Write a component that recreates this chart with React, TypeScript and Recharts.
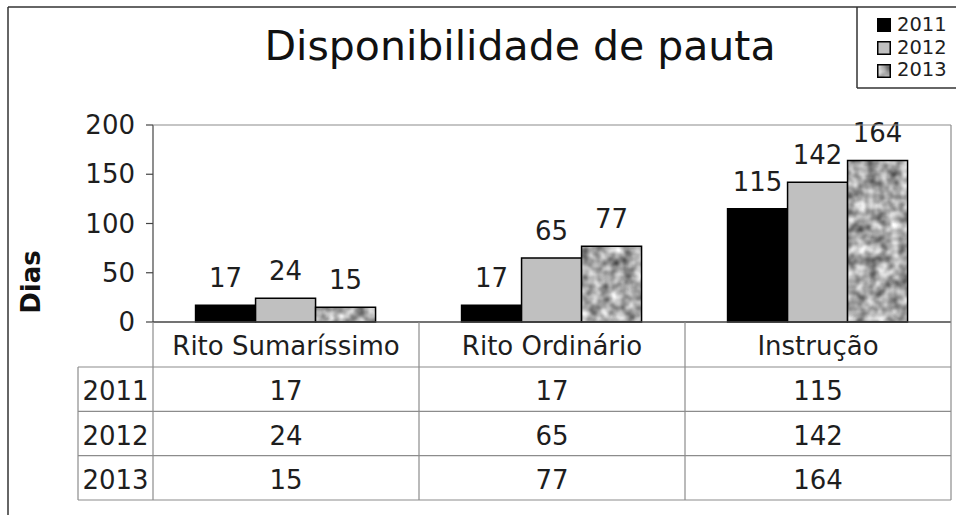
import React from 'react';
import { BarChart, Bar, XAxis, YAxis, LabelList, Legend } from 'recharts';

const categories = ['Rito Sumaríssimo', 'Rito Ordinário', 'Instrução'];
const years = ['2011', '2012', '2013'];
const values2011 = [17, 17, 115];
const values2012 = [24, 65, 142];
const values2013 = [15, 77, 164];
const yTicks = [0, 50, 100, 150, 200];
const seriesValues = [values2011, values2012, values2013];

const data = categories.map((c, i) => ({
  cat: c,
  y2011: values2011[i],
  y2012: values2012[i],
  y2013: values2013[i],
}));

const W = 956;
const H = 515;
const PLOT_L = 153;
const PLOT_R = 951;
const PLOT_T = 125;
const PLOT_B = 322;
const TABLE_B = 500;
const BAND = (PLOT_R - PLOT_L) / categories.length;
const HEADER_H = 45;
const ROW_H = (TABLE_B - PLOT_B - HEADER_H) / years.length;
const LABEL_COL = 75;
const FONT = "'DejaVu Sans', sans-serif";
const TEXT = '#1e1e1e';
const GRID = '#8c8c8c';
const AXIS = '#444';
const LEG_ROW = 22.7;

const TableTick = (props: any) => {
  const { x, y, payload } = props;
  const idx = categories.indexOf(payload.value);
  const left = x - BAND / 2;
  const right = x + BAND / 2;
  const rowsTop = y + HEADER_H;
  const bottom = rowsTop + ROW_H * years.length;
  const txt = {
    fontSize: 26,
    fill: TEXT,
    fontFamily: FONT,
    textAnchor: 'middle' as const,
    dominantBaseline: 'central' as const,
  };
  return (
    <g>
      <text x={x} y={y + HEADER_H / 2 + 1} {...txt}>
        {payload.value}
      </text>
      {years.map((yr, r) => (
        <g key={yr}>
          <line x1={left} x2={right} y1={rowsTop + r * ROW_H} y2={rowsTop + r * ROW_H} stroke={GRID} strokeWidth={1.2} />
          <text x={x} y={rowsTop + r * ROW_H + ROW_H / 2 + 2} {...txt}>
            {seriesValues[r][idx]}
          </text>
        </g>
      ))}
      <line x1={left} x2={right} y1={bottom} y2={bottom} stroke={GRID} strokeWidth={1.2} />
      <line x1={right} x2={right} y1={y} y2={bottom} stroke={GRID} strokeWidth={1.2} />
      {idx === 0 && (
        <g>
          <line x1={left} x2={left} y1={y} y2={bottom} stroke={GRID} strokeWidth={1.2} />
          <line x1={left - LABEL_COL} x2={left - LABEL_COL} y1={rowsTop} y2={bottom} stroke={GRID} strokeWidth={1.2} />
          {years.map((yr, r) => (
            <g key={'l' + yr}>
              <line
                x1={left - LABEL_COL}
                x2={left}
                y1={rowsTop + r * ROW_H}
                y2={rowsTop + r * ROW_H}
                stroke={GRID}
                strokeWidth={1.2}
              />
              <text x={left - LABEL_COL / 2} y={rowsTop + r * ROW_H + ROW_H / 2 + 2} {...txt}>
                {yr}
              </text>
            </g>
          ))}
          <line x1={left - LABEL_COL} x2={left} y1={bottom} y2={bottom} stroke={GRID} strokeWidth={1.2} />
        </g>
      )}
    </g>
  );
};

const renderLegend = (props: any) => {
  const { payload } = props;
  return (
    <div style={{ fontFamily: FONT, fontSize: 19.5, color: TEXT, lineHeight: `${LEG_ROW}px` }}>
      {(payload || []).map((e: any) => (
        <div key={e.value} style={{ display: 'flex', alignItems: 'center', height: LEG_ROW }}>
          <svg width={14} height={14} style={{ marginRight: 6, flex: 'none' }}>
            <rect x={0.75} y={0.75} width={12.5} height={12.5} fill={e.color} stroke="#000" strokeWidth={1.5} />
          </svg>
          <span>{e.value}</span>
        </div>
      ))}
    </div>
  );
};

export default function App() {
  return (
    <div style={{ position: 'absolute', left: 0, top: 0, width: W, height: H, background: '#fff' }}>
      <svg width={0} height={0} style={{ position: 'absolute' }}>
        <defs>
          <filter
            id="graniteNoise"
            x="0"
            y="0"
            width="100%"
            height="100%"
            colorInterpolationFilters="sRGB"
          >
            <feTurbulence type="fractalNoise" baseFrequency="0.09" numOctaves={2} seed={11} />
            <feColorMatrix
              type="matrix"
              values="0.9 0 0 0 0.2  0.9 0 0 0 0.2  0.9 0 0 0 0.2  0 0 0 0 1"
            />
          </filter>
          <pattern id="granite" patternUnits="userSpaceOnUse" width={W} height={H}>
            <rect x={0} y={0} width={W} height={H} fill="#aaa" filter="url(#graniteNoise)" />
          </pattern>
        </defs>
      </svg>
      <BarChart
        width={W}
        height={H}
        data={data}
        margin={{ top: PLOT_T, right: W - PLOT_R, bottom: H - TABLE_B, left: 0 }}
        barCategoryGap="16%"
        barGap={0}
        style={{ fontFamily: FONT }}
      >
        <XAxis
          dataKey="cat"
          height={TABLE_B - PLOT_B}
          tickSize={0}
          tickMargin={0}
          tickLine={false}
          interval={0}
          axisLine={{ stroke: AXIS, strokeWidth: 1.5 }}
          tick={(p: any) => <TableTick {...p} />}
        />
        <YAxis
          domain={[0, 200]}
          ticks={yTicks}
          width={PLOT_L}
          tickSize={7}
          tickMargin={11}
          interval={0}
          axisLine={{ stroke: AXIS, strokeWidth: 1.2 }}
          tickLine={{ stroke: AXIS, strokeWidth: 1.2 }}
          tick={{ fontSize: 26, fill: TEXT, fontFamily: FONT }}
        />
        <Legend
          layout="vertical"
          align="center"
          verticalAlign="middle"
          wrapperStyle={{ left: 877, top: 14, width: 79 }}
          content={renderLegend}
        />
        <Bar dataKey="y2011" name="2011" fill="#000000" stroke="#000" strokeWidth={1.5} isAnimationActive={false}>
          <LabelList dataKey="y2011" position="top" offset={18} fontSize={26} fill={TEXT} fontFamily={FONT} />
        </Bar>
        <Bar dataKey="y2012" name="2012" fill="#c0c0c0" stroke="#000" strokeWidth={1.5} isAnimationActive={false}>
          <LabelList dataKey="y2012" position="top" offset={18} fontSize={26} fill={TEXT} fontFamily={FONT} />
        </Bar>
        <Bar dataKey="y2013" name="2013" fill="url(#granite)" stroke="#000" strokeWidth={1.5} isAnimationActive={false}>
          <LabelList dataKey="y2013" position="top" offset={18} fontSize={26} fill={TEXT} fontFamily={FONT} />
        </Bar>
      </BarChart>
      <svg
        width={W}
        height={H}
        style={{ position: 'absolute', left: 0, top: 0, pointerEvents: 'none' }}
      >
        <line x1={8} y1={7} x2={W} y2={7} stroke="#333" strokeWidth={1.5} />
        <line x1={8} y1={7} x2={8} y2={H} stroke="#333" strokeWidth={1.5} />
        <line x1={857} y1={7} x2={857} y2={88} stroke="#333" strokeWidth={1.5} />
        <line x1={857} y1={88} x2={W} y2={88} stroke="#333" strokeWidth={1.5} />
        <line x1={PLOT_L} y1={PLOT_T} x2={PLOT_R} y2={PLOT_T} stroke={GRID} strokeWidth={1.2} />
        <line x1={PLOT_R} y1={PLOT_T} x2={PLOT_R} y2={PLOT_B} stroke={GRID} strokeWidth={1.2} />
        <text x={520} y={60} textAnchor="middle" fontSize={41} fill="#111" fontFamily={FONT}>
          Disponibilidade de pauta
        </text>
        <text
          x={31}
          y={282}
          transform="rotate(-90 31 282)"
          textAnchor="middle"
          dominantBaseline="central"
          fontSize={26}
          fontWeight="bold"
          fill="#111"
          fontFamily={FONT}
        >
          Dias
        </text>
      </svg>
    </div>
  );
}
